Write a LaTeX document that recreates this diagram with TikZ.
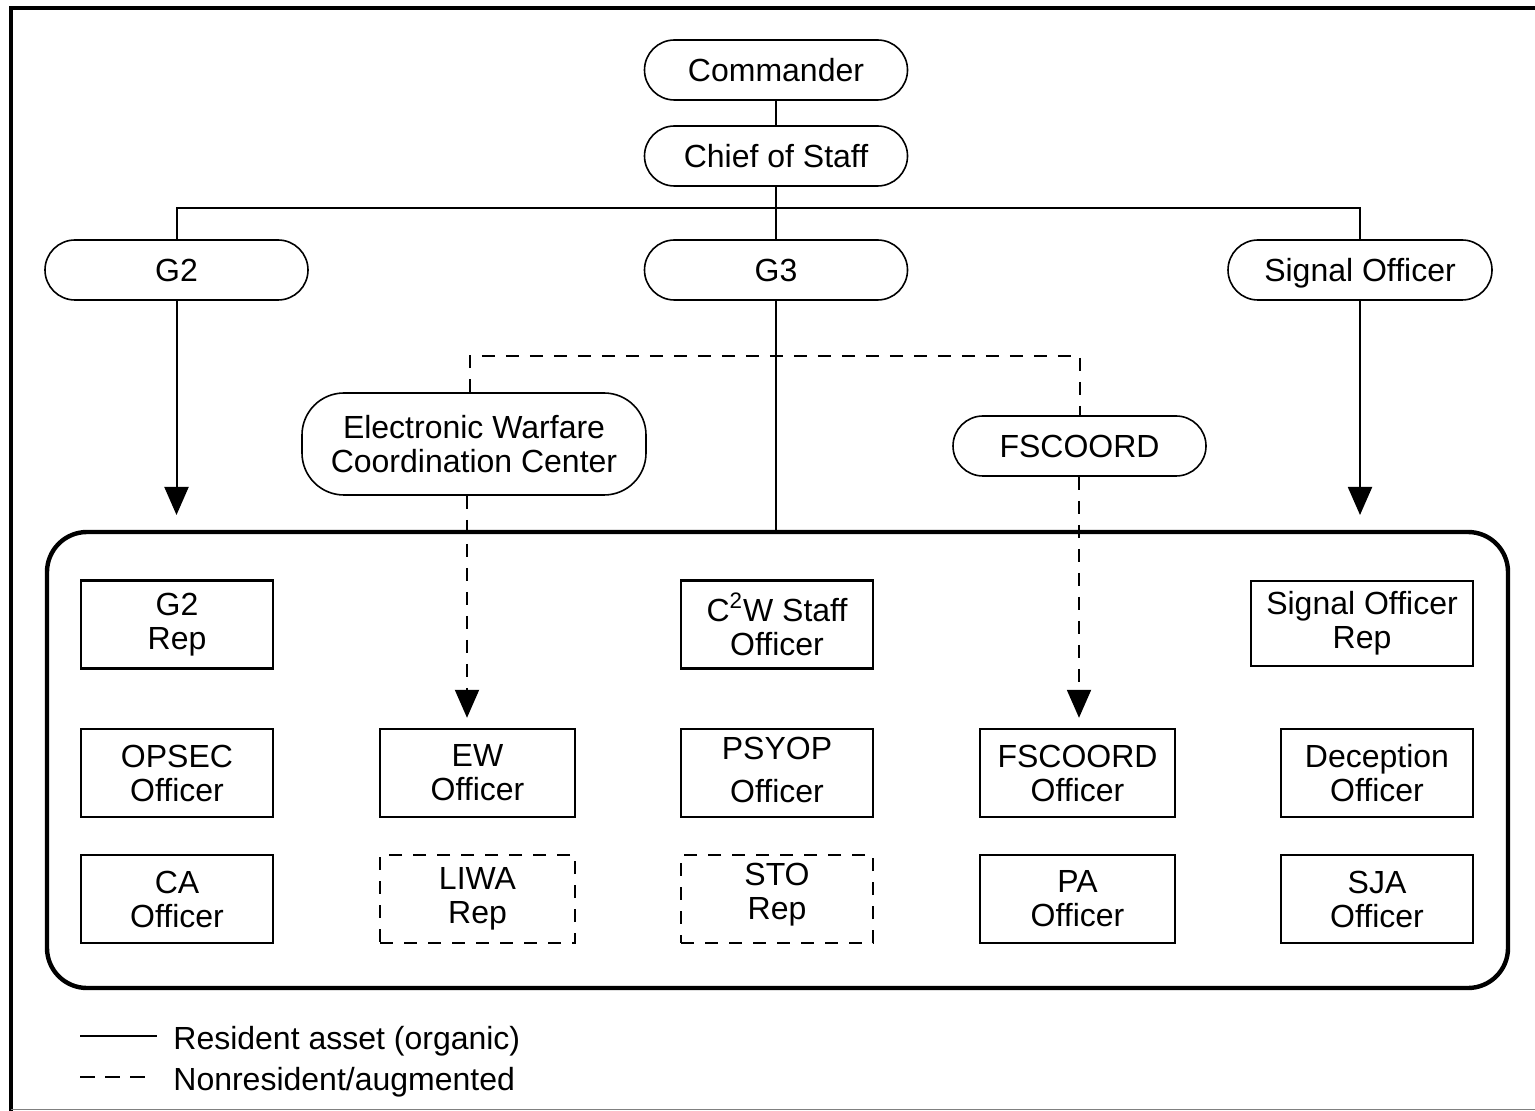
\documentclass[tikz,border=0pt]{standalone}
\usepackage{fontspec}
\setmainfont{Liberation Sans}
\usetikzlibrary{arrows.meta}
\begin{document}
\begin{tikzpicture}[x=0.5pt,y=-0.5pt,
  txt/.style={font=\fontsize{16}{17}\selectfont, align=center, inner sep=0pt},
  pill/.style={txt, draw, line width=0.8pt, rounded corners=15pt, minimum height=30pt},
  box/.style={txt, draw, line width=1.2pt, minimum width=96pt, minimum height=44pt},
  dbox/.style={box, dash pattern=on 6.5pt off 5.5pt},
  conn/.style={line width=1pt},
  dconn/.style={line width=1pt, dash pattern=on 6.5pt off 5.5pt},
  tip/.style={-{Triangle[length=14pt,width=12pt]}}
]
\useasboundingbox (0,0) rectangle (1535,1111);
% frame
\draw[line width=2.2pt] (11,1111) -- (11,8) -- (1535,8);
\draw[gray,line width=0.7pt] (11,1109.5) -- (1535,1109.5);

% top hierarchy
\node[pill, minimum width=131.5pt] (cmd) at (776,70) {Commander};
\node[pill, minimum width=131.5pt] (cos) at (776,156) {Chief of Staff};
\node[pill, minimum width=131.5pt] (g2) at (176.5,270) {G2};
\node[pill, minimum width=131.5pt] (g3) at (776,270) {G3};
\node[pill, minimum width=132pt, text depth=0pt] (sig) at (1360,270) {Signal Officer};
\node[pill, minimum width=172pt, minimum height=51pt, rounded corners=21pt] (ewcc) at (474,444) {Electronic Warfare\\Coordination Center};
\node[pill, minimum width=126.5pt] (fsc) at (1079.5,446) {FSCOORD};

% staff box
\node[draw, line width=2.2pt, rounded corners=20pt, minimum width=730.5pt, minimum height=228pt, inner sep=0pt] (staff) at (777.5,760) {};

% row 1
\node[box] (g2rep) at (177,624.5) {G2\\Rep};
\node[box] (c2w) at (777,624.5) {C\textsuperscript{2}W Staff\\Officer};
\node[box, minimum width=111pt, minimum height=42.5pt] (sigrep) at (1362,623.5) {Signal Officer\\Rep};
% row 2
\node[box] (opsec) at (177,773) {OPSEC\\Officer};
\node[box, minimum width=97.5pt] (ew) at (477.5,773) {EW\\Officer};
\node[box, text depth=3.5pt] (psyop) at (777,773) {PSYOP\\[4.5pt]Officer};
\node[box, minimum width=97.5pt] (fsco) at (1077.5,773) {FSCOORD\\Officer};
\node[box] (dec) at (1377,773) {Deception\\Officer};
% row 3
\node[box] (ca) at (177,899) {CA\\Officer};
\node[dbox, minimum width=97.5pt] (liwa) at (477.5,899) {LIWA\\Rep};
\node[dbox, text depth=7.5pt] (sto) at (777,899) {STO\\Rep};
\node[box, minimum width=97.5pt] (pa) at (1077.5,899) {PA\\Officer};
\node[box] (sja) at (1377,899) {SJA\\Officer};

% coordinates
\coordinate (bus) at (776,208);
\coordinate (g2tip) at (176.5,515);
\coordinate (sigtip) at (1360,515);
\coordinate (dl) at (470,356);
\coordinate (dr) at (1080,356);
\coordinate (ewx) at (467,0);
\coordinate (fsx) at (1079,0);

% connectors
\draw[conn] (cmd) -- (cos);
\draw[conn] (cos) -- (g3);
\draw[conn] (g2.north) |- (bus) -| (sig.north);
\draw[conn] (g3) -- (g3.south |- staff.north);
\draw[conn, tip] (g2) -- (g2tip);
\draw[conn, tip] (sig) -- (sigtip);
\draw[dconn] (ewcc.north -| dl) -- (dl) -- (dr) -- (fsc.north -| dr);
\draw[dconn, tip, shorten >=5pt] (ewcc.south -| ewx) -- (ew.north -| ewx);
\draw[dconn, tip, shorten >=5pt] (fsc.south -| fsx) -- (fsco.north -| fsx);

% legend
\draw[line width=1pt] (80,1036) -- (157,1036);
\draw[line width=1pt, dash pattern=on 7.5pt off 5pt] (80,1077) -- (150,1077);
\node[txt, anchor=west, text depth=0pt] (leg1) at (173,1038) {Resident asset (organic)};
\node[txt, anchor=west, text depth=0pt] (leg2) at (173,1079) {Nonresident/augmented};
\end{tikzpicture}
\end{document}
